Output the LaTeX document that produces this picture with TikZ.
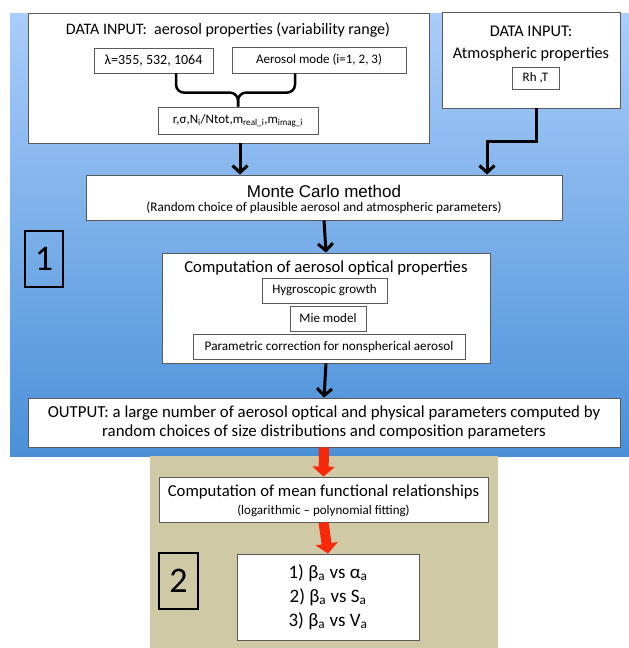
\documentclass[tikz,border=0pt]{standalone}
\usepackage{fontspec}
\setmainfont{Carlito}
\newfontfamily\arialfont{Liberation Sans}
\usepackage{xcolor}
\usepackage{tikz}
\usetikzlibrary{arrows.meta}

\definecolor{bluetop}{RGB}{170,205,250}
\definecolor{bluebot}{RGB}{74,144,216}
\definecolor{beige}{RGB}{208,201,166}
\definecolor{redarrow}{RGB}{250,40,10}
\definecolor{boxline}{RGB}{90,90,90}

\newcommand{\fs}[2]{\fontsize{#1}{#2}\selectfont}

\begin{document}
\begin{tikzpicture}[x=1pt,y=-1pt,
	box/.style={draw=boxline,fill=white,line width=0.8pt,inner sep=0pt,align=center},
	numbox/.style={draw=black,line width=2.5pt,inner sep=0pt,font=\fs{36}{36}},
	arr/.style={line width=3pt,-{Straight Barb[length=7pt,width=15pt]}},
	redarr/.style={redarrow,line width=10pt,-{Triangle[length=10pt,width=22pt]}},
	brace/.style={line width=2.5pt,rounded corners=8pt},
	txt/.style={inner sep=0pt,align=center}]
	\useasboundingbox (0,0) rectangle (629,648);
	\shade[top color=bluetop,bottom color=bluebot] (10,13) rectangle (629,456);
	\fill[beige] (150,456) rectangle (498,648);
	
	\node[box,minimum width=401pt,minimum height=130pt] (input) at (228.5,78) {};
	\node[txt,font=\fs{16}{16}] (inputtitle) at (228,30) {DATA INPUT:\ \ aerosol properties (variability range)};
	\node[box,minimum width=119pt,minimum height=25pt,font=\fs{14}{14}] (lambda) at (153.5,60.5) {λ=355, 532, 1064};
	\node[box,minimum width=174pt,minimum height=26pt,font=\fs{13}{13}] (mode) at (319,60) {Aerosol mode (i=1, 2, 3)};
	\node[box,minimum width=160pt,minimum height=27pt,font=\fs{13}{13}] (rsig) at (238,120.5) {r,σ,N\textsubscript{i}/Ntot,m\textsubscript{real\_i},m\textsubscript{imag\_i}};
	\draw[brace] ([xshift=22.5pt]lambda.south) |- ([yshift=14pt]rsig.north) -- (rsig.north);
	\draw[brace] ([xshift=-24pt]mode.south) |- ([yshift=14pt]rsig.north) -- (rsig.north);
	
	\node[box,minimum width=178pt,minimum height=96pt] (atmos) at (531,60) {};
	\node[txt,font=\fs{16.3}{22}] (atmostitle) at (531,44) {DATA INPUT:\\Atmospheric properties};
	\node[box,minimum width=47pt,minimum height=22pt,font=\fs{13}{13}] (rht) at (535.5,78) {Rh ,T};
	
	\node[box,minimum width=476pt,minimum height=45pt] (mc) at (324,197.5) {};
	\node[txt,font=\arialfont\fs{17}{17}] (mctitle) at (324,191) {Monte Carlo method};
	\node[txt,font=\fs{13.2}{13}] (mcsub) at (324,208) {(Random choice of plausible aerosol and atmospheric parameters)};
	
	\coordinate (inout) at ([xshift=11.5pt]input.south);
	\draw[arr] (inout) -- (inout |- mc.north);
	\coordinate (atmout) at ([xshift=5pt]atmos.south);
	\coordinate (mcin) at ([xshift=163pt]mc.north);
	\draw[arr] (atmout) -- ++(0,33) -| (mcin);
	
	\node[numbox,minimum width=38pt,minimum height=56pt] (one) at (44,259) {1};
	
	\node[box,minimum width=328pt,minimum height=110pt] (comp) at (326,308) {};
	\node[txt,font=\fs{16.7}{17}] (comptitle) at (326,268) {Computation of aerosol optical properties};
	\node[box,minimum width=125pt,minimum height=25pt,font=\fs{13}{13}] (hyg) at (324.5,290.5) {Hygroscopic growth};
	\node[box,minimum width=76pt,minimum height=25pt,font=\fs{13}{13}] (mie) at (328,318.5) {Mie model};
	\node[box,minimum width=272pt,minimum height=25pt,font=\fs{13.2}{13}] (param) at (329,346.5) {Parametric correction for nonspherical aerosol};
	\draw[arr] (mc.south) -- (comp.north);
	
	\node[box,minimum width=592pt,minimum height=49pt,font=\fs{16.8}{19.5}] (output) at (324,422.5) {OUTPUT: a large number of aerosol optical and physical parameters computed by\\random choices of size distributions and composition parameters};
	\draw[arr] (comp.south) -- (output.north);
	
	\node[box,minimum width=329pt,minimum height=45pt] (mean) at (323.5,499.5) {};
	\node[txt,font=\fs{16.7}{17}] (meantitle) at (323.5,492) {Computation of mean functional relationships};
	\node[txt,font=\fs{13}{13}] (meansub) at (323.5,511) {(logarithmic – polynomial fitting)};
	\draw[redarr] (output.south) -- (mean.north);
	
	\node[numbox,minimum width=39pt,minimum height=56pt] (two) at (178.5,581) {2};
	\node[box,minimum width=182pt,minimum height=86pt,font=\fs{19}{24}] (results) at (328,597) {1) β\textsubscript{a} vs α\textsubscript{a}\\2) β\textsubscript{a} vs S\textsubscript{a}\\3) β\textsubscript{a} vs V\textsubscript{a}};
	\draw[redarr] (mean.south) -- (results.north);
\end{tikzpicture}
\end{document}
